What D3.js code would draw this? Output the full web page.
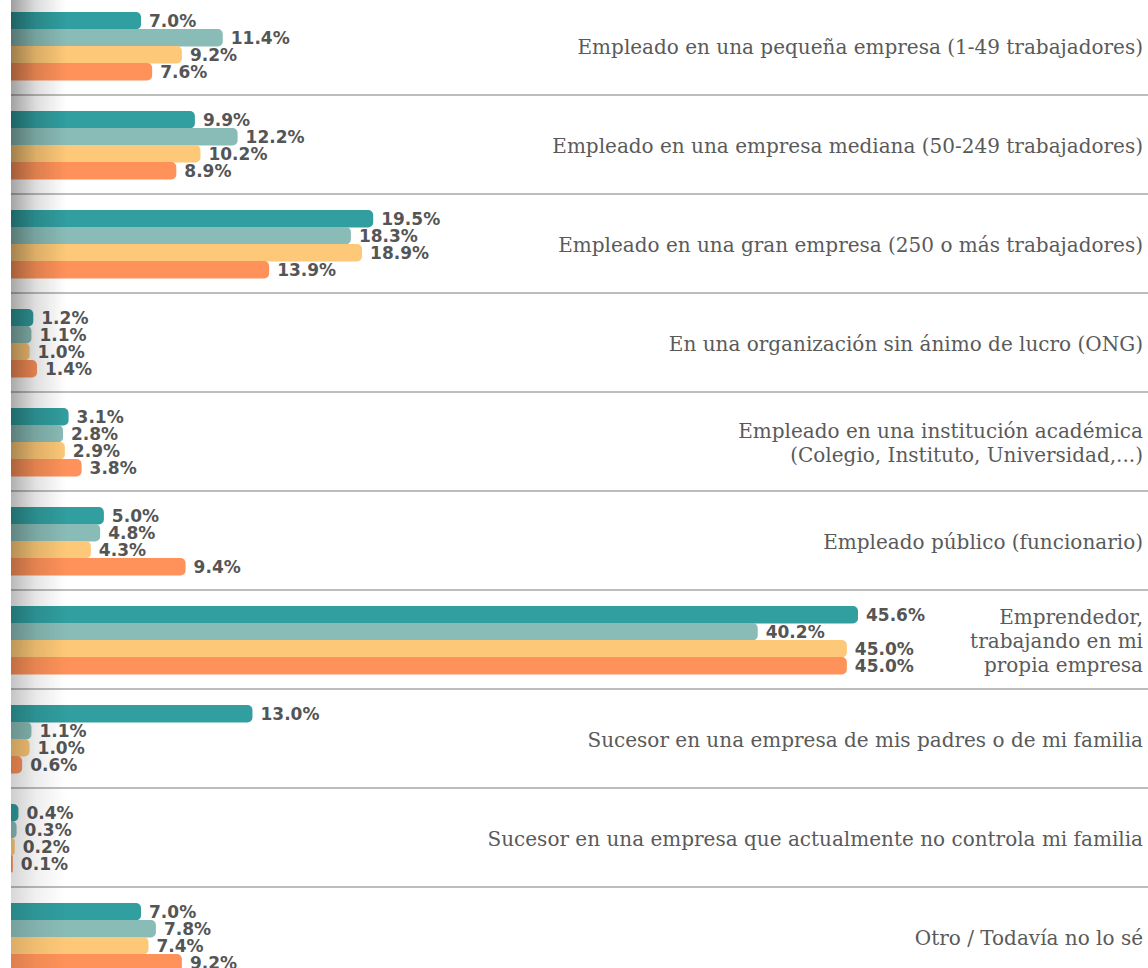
<!DOCTYPE html>
<html>
<head>
<meta charset="utf-8">
<script src="https://cdn.jsdelivr.net/npm/d3@7"></script>
<style>
  html, body { margin: 0; padding: 0; background: #fff; overflow: hidden; }
  svg { display: block; }
</style>
</head>
<body>
<div id="chart"></div>
<script>
// categories (multi-line ones split with "|")
var categories = [
  "Empleado en una pequeña empresa (1-49 trabajadores)",
  "Empleado en una empresa mediana (50-249 trabajadores)",
  "Empleado en una gran empresa (250 o más trabajadores)",
  "En una organización sin ánimo de lucro (ONG)",
  "Empleado en una institución académica|(Colegio, Instituto, Universidad,...)",
  "Empleado público (funcionario)",
  "Emprendedor,|trabajando en mi|propia empresa",
  "Sucesor en una empresa de mis padres o de mi familia",
  "Sucesor en una empresa que actualmente no controla mi familia",
  "Otro / Todavía no lo sé"
]

var seriesNames = ["serie1", "serie2", "serie3", "serie4"]
var serie1 = [7.0, 9.9, 19.5, 1.2, 3.1, 5.0, 45.6, 13.0, 0.4, 7.0]
var serie2 = [11.4, 12.2, 18.3, 1.1, 2.8, 4.8, 40.2, 1.1, 0.3, 7.8]
var serie3 = [9.2, 10.2, 18.9, 1.0, 2.9, 4.3, 45.0, 1.0, 0.2, 7.4]
var serie4 = [7.6, 8.9, 13.9, 1.4, 3.8, 9.4, 45.0, 0.6, 0.1, 9.2]
var colors = ["#319e9f", "#8abcb7", "#fdc877", "#fe925a"]

var width = 1148, height = 968
var allSeries = [serie1, serie2, serie3, serie4]

var svg = d3.select("#chart").append("svg")
  .attr("width", width)
  .attr("height", height)

var defs = svg.append("defs")
var hg = defs.append("linearGradient").attr("id", "shadeH")
  .attr("x1", "0").attr("x2", "1").attr("y1", "0").attr("y2", "0")
hg.append("stop").attr("offset", "0%").attr("stop-color", "#000").attr("stop-opacity", 0.38)
hg.append("stop").attr("offset", "45%").attr("stop-color", "#000").attr("stop-opacity", 0.14)
hg.append("stop").attr("offset", "100%").attr("stop-color", "#000").attr("stop-opacity", 0)

var vg = defs.append("linearGradient").attr("id", "shadeV")
  .attr("x1", "0").attr("x2", "0").attr("y1", "0").attr("y2", "1")
vg.append("stop").attr("offset", "0%").attr("stop-color", "#fff")
vg.append("stop").attr("offset", "45%").attr("stop-color", "#ddd")
vg.append("stop").attr("offset", "100%").attr("stop-color", "#555")
var mask = defs.append("mask").attr("id", "shadeMask")
mask.append("rect").attr("x", 0).attr("y", 0).attr("width", width).attr("height", height)
  .attr("fill", "url(#shadeV)")

// band scale: each category is 99px high, first one starts just above the top
var y = d3.scaleBand()
  .domain(d3.range(categories.length))
  .range([-4, -4 + 99 * categories.length])
  .paddingInner(0).paddingOuter(0)

var x = d3.scaleLinear()
  .domain([0, 45.6])
  .range([11, 858])

var inner = d3.scaleBand()
  .domain(d3.range(4))
  .range([16, 84])

var barH = 17.5

// separators
svg.selectAll(".sep")
  .data(d3.range(1, categories.length))
  .enter().append("line")
  .attr("x1", 11).attr("x2", width)
  .attr("y1", function(d){ return y(d) }).attr("y2", function(d){ return y(d) })
  .attr("stroke", "#bdbdbd").attr("stroke-width", 2)

// rounded-right bar path
var barPath = function(x0, y0, w, h){
  var r = Math.min(5, w, h / 2)
  return "M" + x0 + "," + y0 +
    "H" + (x0 + w - r) +
    "A" + r + "," + r + " 0 0 1 " + (x0 + w) + "," + (y0 + r) +
    "V" + (y0 + h - r) +
    "A" + r + "," + r + " 0 0 1 " + (x0 + w - r) + "," + (y0 + h) +
    "H" + x0 + "Z"
}

var groups = svg.selectAll(".cat")
  .data(categories)
  .enter().append("g")
  .attr("transform", function(d, i){ return "translate(0," + y(i) + ")" })

groups.each(function(cat, i){
  var g = d3.select(this)
  allSeries.forEach(function(s, k){
    var v = s[i]
    g.append("path")
      .attr("d", barPath(x(0), inner(k), x(v) - x(0), barH))
      .attr("fill", colors[k])
  })
})

// left shadow over bars
svg.append("rect")
  .attr("x", 11).attr("y", 0)
  .attr("width", 55).attr("height", height)
  .attr("fill", "url(#shadeH)")
  .attr("mask", "url(#shadeMask)")

// value labels
groups.each(function(cat, i){
  var g = d3.select(this)
  allSeries.forEach(function(s, k){
    var v = s[i]
    g.append("text")
      .attr("x", x(v) + 8)
      .attr("y", inner(k) + barH / 2)
      .attr("dy", "0.35em")
      .attr("font-family", "DejaVu Sans, sans-serif")
      .attr("font-weight", "bold")
      .attr("font-size", 17)
      .attr("fill", "#555")
      .text(v.toFixed(1) + "%")
  })
})

// category labels
groups.each(function(cat, i){
  var lines = cat.split("|")
  var lh = 24
  var t = d3.select(this).append("text")
    .attr("text-anchor", "end")
    .attr("font-family", "DejaVu Serif, serif")
    .attr("font-size", 20)
    .attr("fill", "#5a5a5a")
  lines.forEach(function(l, j){
    t.append("tspan")
      .attr("x", 1143)
      .attr("y", y.bandwidth() / 2 + 1 + (j - (lines.length - 1) / 2) * lh)
      .attr("dy", "0.35em")
      .text(l)
  })
})
</script>
</body>
</html>
